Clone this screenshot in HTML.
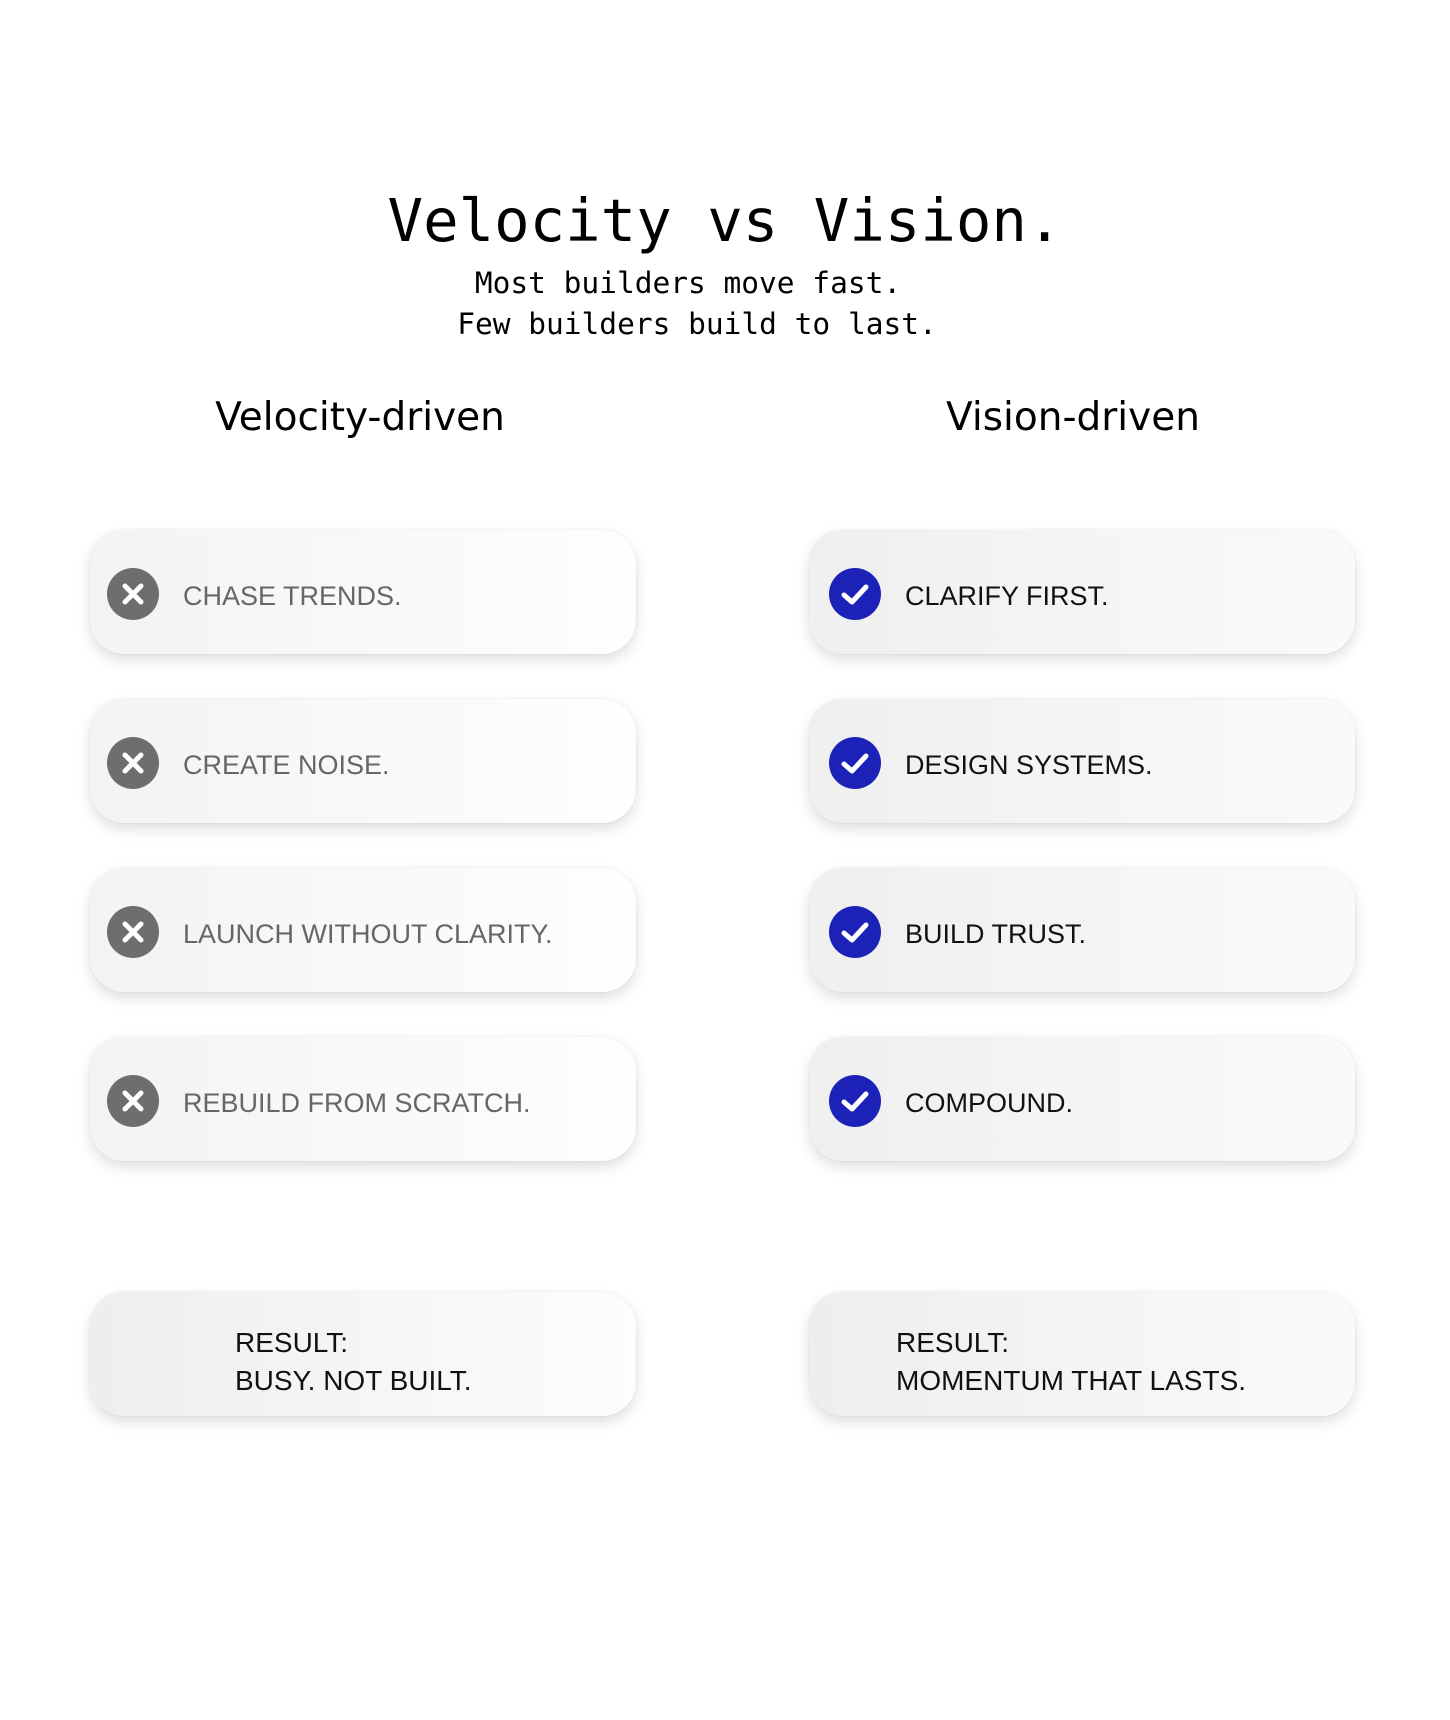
<!DOCTYPE html>
<html><head><meta charset="utf-8"><style>
body{margin:0;width:1450px;height:1720px;background:#fff;position:relative;font-family:"Liberation Sans",sans-serif;overflow:hidden}
.t{position:absolute;left:0;width:1450px;text-align:center;font-family:"DejaVu Sans Mono","Liberation Mono",monospace;color:#000;white-space:nowrap}
.h{position:absolute;font-family:"DejaVu Sans","Liberation Sans",sans-serif;font-size:39px;color:#000;transform:translateX(-50%);top:395px;white-space:nowrap}
.c{position:absolute;width:546px;height:124px;border-radius:34px;box-shadow:0 6px 14px rgba(0,0,0,0.13),0 0 2px rgba(0,0,0,0.08)}
.L{left:90px;background:linear-gradient(90deg,#f3f3f3,#fefefe)}
.R{left:809px;background:linear-gradient(90deg,#efefef,#fafafa)}
.ic{position:absolute;top:38px;width:52px;height:52px;border-radius:50%}
.L .ic{left:17px;background:#6e6e6e}
.R .ic{left:20px;background:#1c22b8}
.tx{position:absolute;top:4px;line-height:124px;font-size:27px;white-space:nowrap}
.L .tx{left:93px;color:#666}
.R .tx{left:96px;color:#111}
.res .tx2{position:absolute;font-size:28px;color:#111;line-height:38px;top:32px}
</style></head><body>
<div class="t" style="top:186px;font-size:59px;">Velocity vs Vision.</div>
<div class="t" style="top:266px;font-size:29.5px;left:-37px">Most builders move fast.</div>
<div class="t" style="top:307px;font-size:29.5px;left:-28px">Few builders build to last.</div>
<div class="h" style="left:360px">Velocity-driven</div>
<div class="h" style="left:1073px">Vision-driven</div>

<div class="c L" style="top:530px"><div class="ic"><svg width="52" height="52"><path d="M18 18L34 34M34 18L18 34" stroke="#fff" stroke-width="5" stroke-linecap="round"/></svg></div><div class="tx">CHASE TRENDS.</div></div>
<div class="c L" style="top:699px"><div class="ic"><svg width="52" height="52"><path d="M18 18L34 34M34 18L18 34" stroke="#fff" stroke-width="5" stroke-linecap="round"/></svg></div><div class="tx">CREATE NOISE.</div></div>
<div class="c L" style="top:868px"><div class="ic"><svg width="52" height="52"><path d="M18 18L34 34M34 18L18 34" stroke="#fff" stroke-width="5" stroke-linecap="round"/></svg></div><div class="tx">LAUNCH WITHOUT CLARITY.</div></div>
<div class="c L" style="top:1037px"><div class="ic"><svg width="52" height="52"><path d="M18 18L34 34M34 18L18 34" stroke="#fff" stroke-width="5" stroke-linecap="round"/></svg></div><div class="tx">REBUILD FROM SCRATCH.</div></div>

<div class="c R" style="top:530px"><div class="ic"><svg width="52" height="52"><path d="M15 27L23 34L37 19" stroke="#fff" stroke-width="5" fill="none" stroke-linecap="round" stroke-linejoin="round"/></svg></div><div class="tx">CLARIFY FIRST.</div></div>
<div class="c R" style="top:699px"><div class="ic"><svg width="52" height="52"><path d="M15 27L23 34L37 19" stroke="#fff" stroke-width="5" fill="none" stroke-linecap="round" stroke-linejoin="round"/></svg></div><div class="tx">DESIGN SYSTEMS.</div></div>
<div class="c R" style="top:868px"><div class="ic"><svg width="52" height="52"><path d="M15 27L23 34L37 19" stroke="#fff" stroke-width="5" fill="none" stroke-linecap="round" stroke-linejoin="round"/></svg></div><div class="tx">BUILD TRUST.</div></div>
<div class="c R" style="top:1037px"><div class="ic"><svg width="52" height="52"><path d="M15 27L23 34L37 19" stroke="#fff" stroke-width="5" fill="none" stroke-linecap="round" stroke-linejoin="round"/></svg></div><div class="tx">COMPOUND.</div></div>

<div class="c res" style="left:90px;top:1292px;background:linear-gradient(90deg,#eeeeee,#fdfdfd)"><div class="tx2" style="left:145px">RESULT:<br>BUSY. NOT BUILT.</div></div>
<div class="c res" style="left:809px;top:1292px;background:linear-gradient(90deg,#eeeeee,#fafafa)"><div class="tx2" style="left:87px">RESULT:<br>MOMENTUM THAT LASTS.</div></div>
</body></html>
